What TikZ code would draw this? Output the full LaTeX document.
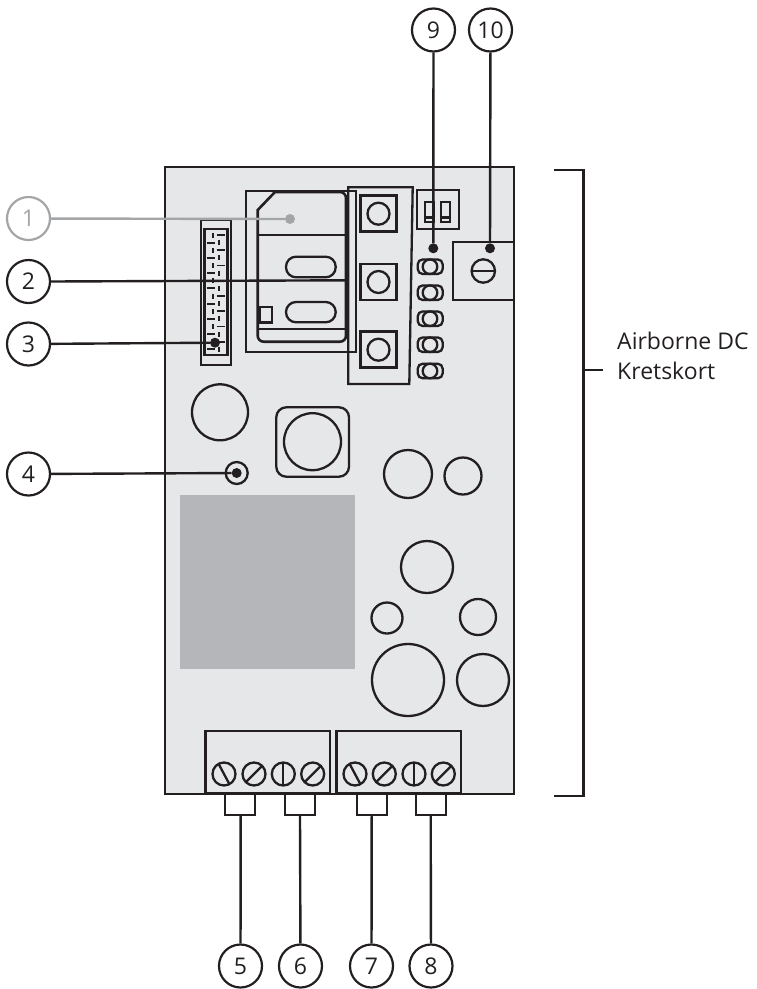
\documentclass[tikz,border=0pt]{standalone}
\usepackage{fontspec}
\setmainfont{Open Sans}
\definecolor{ink}{HTML}{231F20}
\definecolor{boardfill}{HTML}{E6E7E8}
\definecolor{blockgray}{HTML}{B5B6B9}
\definecolor{faded}{HTML}{A3A5A7}
\tikzset{
  part/.style={draw=ink,line width=2.3pt},
  callout/.style={circle,draw=ink,line width=2.2pt,minimum size=43pt,inner sep=0pt,text=ink,font=\fontsize{23}{26}\selectfont},
  callout faded/.style={callout,draw=faded,text=faded},
  lead/.style={draw=ink,line width=2.4pt},
  lead faded/.style={draw=faded,line width=2.4pt},
  dotmark/.style={circle,fill=ink,inner sep=0pt,minimum size=10pt},
  dotmark faded/.style={dotmark,fill=faded},
}
\begin{document}
\begin{tikzpicture}[x=1pt,y=-1pt]
\useasboundingbox (0,0) rectangle (756,989);
% board
\draw[fill=boardfill,draw=ink,line width=2.2pt] (165,167) rectangle (514,794);
\fill[blockgray] (180,495) rectangle (355,669);
% SIM holder
\draw[part] (245.7,190.7) rectangle (355.7,351.7);
\draw[line width=2.6pt,draw=ink] (257.7,210) -- (275,192) [rounded corners=6pt] -- (346,192) -- (346,341.7) -- (257.7,341.7) [sharp corners] -- cycle;
\draw[part] (257.7,235) -- (346,235);
\draw[part] (257.7,329) -- (346,329);
\draw[part,rounded corners=10pt] (286,256.7) rectangle (335.7,277.3);
\draw[part,rounded corners=10pt] (286,302) rectangle (335.7,322.3);
\draw[part] (259.6,307.3) rectangle (272,322.5);
% connector strip
\draw[part] (201,220) rectangle (231,365);
\draw[part] (204.5,229) rectangle (227.5,355);
\foreach \i in {0,...,7}{
  \pgfmathsetmacro\yy{235+15.25*\i}
  \draw[draw=ink,line width=1.8pt] (213.3,\yy-2.5) -- (213.3,\yy+2.5);
  \draw[draw=ink,line width=1.8pt] (216.7,\yy) -- (225,\yy);
  \draw[draw=ink,line width=1.8pt] (207.3,\yy+7.6) -- (215,\yy+7.6);
  \draw[draw=ink,line width=1.8pt] (219.3,\yy+5) -- (219.3,\yy+10);
}
% column of relays
\draw[part] (348.3,187.3) -- (412.7,187.3) -- (409.3,384) -- (348.3,384) -- cycle;
\foreach \y in {195.7,264,331.7}{
  \draw[line width=2.7pt,draw=ink] (360.7,\y) rectangle (396.7,\y+36);
  \draw[part] (378.5,\y+18) circle (11);
}
% DIP switch
\draw[part] (417,190) rectangle (459,229.3);
\foreach \x in {425,440.7}{
  \draw[part] (\x,201.7) rectangle (\x+9.3,221.7);
  \draw[part] (\x,217.5) -- (\x+9.3,217.5);
}
% potentiometer
\draw[part] (453,242.3) rectangle (514,300);
\draw[part] (483.3,271) circle (11.7);
\draw[part] (471.6,271) -- (495,271);
% LEDs
\foreach \y in {266.7,292.7,318.7,344.7,371}{
  \draw[part,rounded corners=5pt] (417.7,\y-7.3) rectangle (442.7,\y+7.3);
  \draw[part] (430,\y) ellipse (7.3 and 7.3);
}
% components
\draw[part] (220,412.3) circle (28);
\draw[part,rounded corners=10pt] (276.3,407.3) rectangle (349,476.7);
\draw[part] (312.5,441.7) circle (28.5);
\draw[part] (236.7,473) circle (11);
\draw[part] (408,474) circle (24);
\draw[part] (463,476) circle (18.5);
\draw[part] (427,567) circle (26);
\draw[part] (387,618) circle (15.5);
\draw[part] (478,617) circle (18);
\draw[part] (408,680) circle (36);
\draw[part] (483,680) circle (26);
% terminal blocks
\draw[line width=2.6pt,draw=ink] (205.7,793.5) -- (205.7,731) -- (330,731) -- (330,793.5);
\draw[line width=2.6pt,draw=ink] (336.7,793.5) -- (336.7,731) -- (461,731) -- (461,793.5);
\draw[line width=3.2pt,draw=ink] (205.7,793.5) -- (330,793.5);
\draw[line width=3.2pt,draw=ink] (336.7,793.5) -- (461,793.5);
\foreach \x/\a in {224/62,254/-45,283.3/90,312.7/-45,355/62,384.3/-45,414/90,443.3/-45}{
  \draw[part] (\x,774) circle (11.5);
  \draw[part] (\x,774) ++(\a:-11.5) -- ++(\a:23);
}
% brackets under terminals
\foreach \xa/\xb in {225/255,285/315,356.7/386.7,416/445.7}{
  \draw[part] (\xa,793) -- (\xa,815) -- (\xb,815) -- (\xb,793);
}
\coordinate (k5) at (240.7,815);
\coordinate (k6) at (300,815);
\coordinate (k7) at (371.7,815);
\coordinate (k8) at (430.7,815);
% callouts
\node[callout faded] (n1) at (28.5,218.5) {1};
\node[callout] (n2) at (28.5,281.5) {2};
\node[callout] (n3) at (28.5,344) {3};
\node[callout] (n4) at (28.5,474) {4};
\node[callout] (n5) at (240.5,966) {5};
\node[callout] (n6) at (300.5,966) {6};
\node[callout] (n7) at (371.5,966) {7};
\node[callout] (n8) at (431,966) {8};
\node[callout] (n9) at (433.5,30) {9};
\node[callout] (n10) at (490.5,30) {10};
% callout targets
\node[dotmark faded] (d1) at (290,219) {};
\coordinate (d2) at (345,280.3);
\node[dotmark] (d3) at (215,342.7) {};
\node[dotmark] (d4) at (236.7,473) {};
\node[dotmark] (d9) at (433.3,248.3) {};
\node[dotmark] (d10) at (490,248.3) {};
\draw[lead faded] (n1) -- (d1);
\draw[lead] (n2.east) -- (d2);
\draw[lead] (n3) -- (d3);
\draw[lead] (n4) -- (d4);
\draw[lead] (n5) -- (k5);
\draw[lead] (n6) -- (k6);
\draw[lead] (n7) -- (k7);
\draw[lead] (n8) -- (k8);
\draw[lead] (n9) -- (d9);
\draw[lead] (n10) -- (d10);
% side bracket
\draw[draw=ink,line width=2.6pt] (554,170) -- (583.3,170) -- (583.3,796) -- (554,796);
\coordinate (brk) at (583.3,370);
\coordinate (brkend) at (602.7,370);
\draw[draw=ink,line width=2.6pt] (brk) -- (brkend);
\node[anchor=base west,inner sep=0pt,text=ink,font=\fontsize{23}{30}\selectfont] (t1) at (617,349.3) {Airborne DC};
\node[anchor=base west,inner sep=0pt,text=ink,font=\fontsize{23}{30}\selectfont] (t2) at (617,379.3) {Kretskort};
\end{tikzpicture}
\end{document}
